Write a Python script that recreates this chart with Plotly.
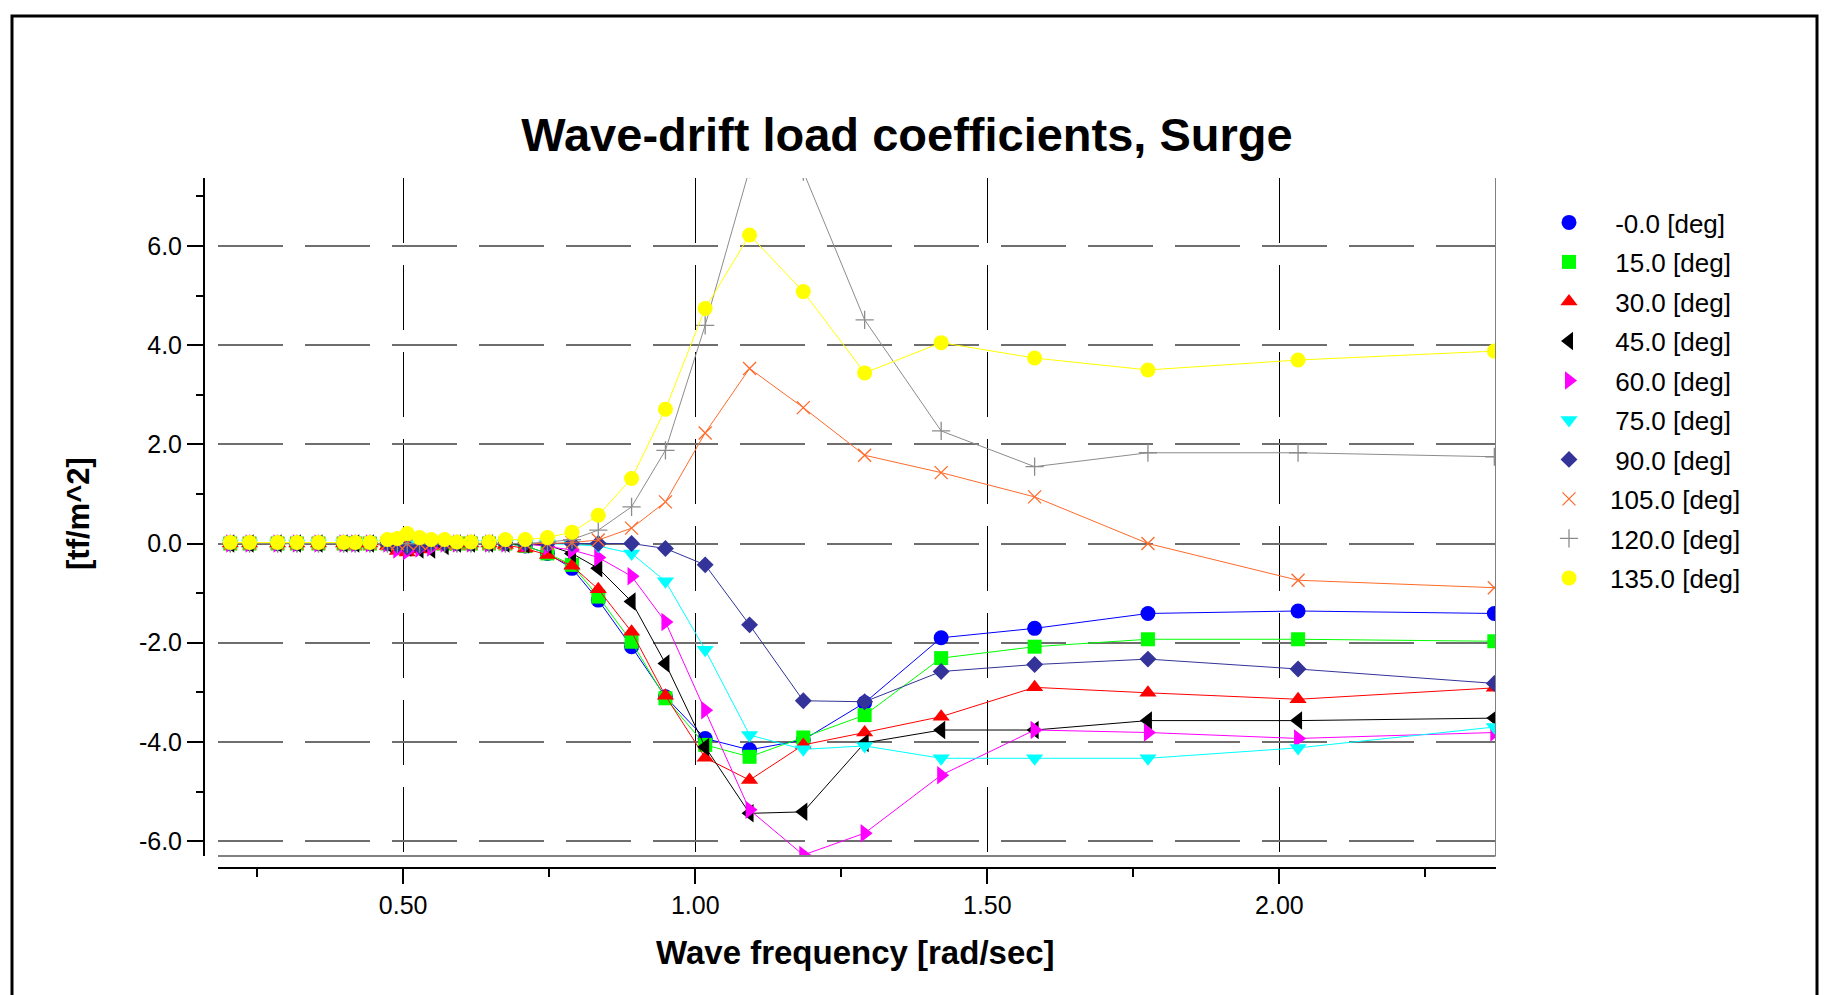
import plotly.graph_objects as go

W, H = 1828, 995
FONT = "Liberation Sans, Arial, sans-serif"


def fx(px):
    return px / W


def fy(py):
    return 1 - py / H


# ---------------- data ----------------
freq = [0.204, 0.237, 0.285, 0.318, 0.355, 0.398, 0.418, 0.443, 0.473, 0.490,
        0.507, 0.528, 0.548, 0.571, 0.592, 0.616, 0.647, 0.675, 0.709, 0.747,
        0.789, 0.834, 0.891, 0.949, 1.017, 1.093, 1.185, 1.290, 1.421, 1.581,
        1.775, 2.032, 2.368]

deg_000 = [0, 0, 0, 0, 0, 0, 0, 0, 0, 0, 0, 0, 0, 0, 0, 0, 0, 0, -0.05, -0.20,
           -0.50, -1.14, -2.08, -3.09, -3.93, -4.16, -3.96, -3.21, -1.90, -1.71,
           -1.41, -1.36, -1.41]
deg_015 = [0, 0, 0, 0, 0, 0, 0, 0, 0, 0, 0, 0, 0, 0, 0, 0, 0, 0, -0.05, -0.20,
           -0.43, -1.07, -1.98, -3.12, -4.06, -4.30, -3.91, -3.46, -2.31, -2.08,
           -1.93, -1.93, -1.97]
deg_030 = [0, 0, 0, 0, 0, 0, 0, 0, -0.05, -0.15, -0.18, -0.12, -0.05, 0, 0, 0, 0,
           -0.03, -0.10, -0.23, -0.45, -0.92, -1.78, -3.07, -4.32, -4.77, -4.06,
           -3.81, -3.49, -2.90, -3.01, -3.14, -2.91]
deg_045 = [0, 0, 0, 0, 0, 0, 0, 0, 0, 0, -0.08, -0.12, -0.12, -0.05, 0, 0, 0, 0,
           -0.02, -0.03, -0.20, -0.50, -1.17, -2.42, -4.10, -5.44, -5.41, -4.02,
           -3.76, -3.76, -3.57, -3.57, -3.52]
deg_060 = [0, 0, 0, 0, 0, 0, 0, 0, 0, -0.12, -0.15, -0.10, -0.08, 0, 0, 0, 0, 0,
           0, -0.06, -0.13, -0.28, -0.66, -1.58, -3.36, -5.37, -6.28, -5.84,
           -4.67, -3.76, -3.81, -3.93, -3.81]
deg_075 = [0, 0, 0, 0, 0, 0, 0, 0, 0, 0, 0, 0, 0, 0, 0, 0, 0, 0, 0, 0, -0.02,
           -0.05, -0.20, -0.76, -2.14, -3.86, -4.15, -4.08, -4.33, -4.33, -4.33,
           -4.12, -3.70]
deg_090 = [0, 0, 0, 0, 0, 0, 0, 0, 0, -0.03, -0.07, -0.05, 0, 0, 0, 0, 0, 0, 0,
           0, 0, 0, 0, -0.10, -0.43, -1.64, -3.17, -3.19, -2.58, -2.44, -2.33,
           -2.53, -2.82]
deg_105 = [0, 0, 0, 0, 0, 0, 0, 0, 0, 0, 0, 0, 0, 0, 0, 0, 0, 0, 0, 0, 0.02,
           0.07, 0.31, 0.84, 2.23, 3.53, 2.74, 1.78, 1.43, 0.94, 0.00, -0.74,
           -0.89]
deg_120 = [0, 0, 0, 0, 0, 0, 0, 0, 0, 0, 0, 0, 0, 0, 0, 0, 0, 0, 0, 0.03, 0.08,
           0.27, 0.74, 1.88, 4.40, 7.55, 7.50, 4.51, 2.27, 1.55, 1.83, 1.83, 1.75]
deg_135 = [0.02, 0.02, 0.02, 0.02, 0.02, 0.02, 0.02, 0.02, 0.08, 0.10, 0.20,
           0.12, 0.08, 0.08, 0.03, 0.03, 0.03, 0.08, 0.08, 0.12, 0.23, 0.57,
           1.31, 2.71, 4.74, 6.22, 5.08, 3.44, 4.05, 3.74, 3.50, 3.70, 3.88]

series_names = ["-0.0 [deg]", "15.0 [deg]", "30.0 [deg]", "45.0 [deg]",
                "60.0 [deg]", "75.0 [deg]", "90.0 [deg]", "105.0 [deg]",
                "120.0 [deg]", "135.0 [deg]"]
series_values = [deg_000, deg_015, deg_030, deg_045, deg_060, deg_075,
                 deg_090, deg_105, deg_120, deg_135]

x_ticks = [0.5, 1.0, 1.5, 2.0]
x_tick_labels = ["0.50", "1.00", "1.50", "2.00"]
y_ticks = [-6.0, -4.0, -2.0, 0.0, 2.0, 4.0, 6.0]
y_tick_labels = ["-6.0", "-4.0", "-2.0", "0.0", "2.0", "4.0", "6.0"]

# ---------------- styles ----------------
colors = ["#0000FF", "#00FF00", "#FF0000", "#000000", "#FF00FF", "#00FFFF",
          "#333399", "#FF6A2A", "#8C8C8C", "#FFFF00"]
symbols = ["circle", "square", "triangle-up", "triangle-left", "triangle-right",
           "triangle-down", "diamond", "x-thin", "cross-thin", "circle"]
sizes = [15, 14, 15, 16, 16, 15, 13, 13, 13, 15]

fig = go.Figure()
for i, (name, vals) in enumerate(zip(series_names, series_values)):
    col = colors[i]
    sym = symbols[i]
    marker = dict(symbol=sym, size=sizes[i], color=col)
    if sym in ("x-thin", "cross-thin"):
        marker["line"] = dict(color=col, width=1.3)
    else:
        marker["line"] = dict(width=0)
    label = name if len(name) > 10 else "\u2009" + name
    # connecting line (not in legend)
    fig.add_trace(go.Scatter(
        x=freq, y=vals, mode="lines", name=label, legendgroup=f"g{i}",
        showlegend=False, hoverinfo="skip",
        line=dict(color=col, width=1),
    ))
    # symbols (legend shows the symbol only)
    fig.add_trace(go.Scatter(
        x=freq, y=vals, mode="markers", name=label, legendgroup=f"g{i}",
        marker=marker,
    ))

# plot area geometry (pixels in the 1828x995 page)
PX0, PX1 = 218, 1495.5
PY0, PY1 = 178, 856

fig.update_layout(
    width=W, height=H,
    margin=dict(l=0, r=0, t=0, b=0),
    paper_bgcolor="white", plot_bgcolor="white",
    font=dict(family=FONT, color="black"),
    showlegend=True,
    legend=dict(
        x=fx(1528), y=fy(199), xanchor="left", yanchor="top",
        font=dict(family=FONT, size=26, color="black"),
        itemwidth=72, tracegroupgap=2.7, borderwidth=0,
        bgcolor="rgba(0,0,0,0)",
    ),
    title=dict(
        text="Wave-drift load coefficients, Surge",
        font=dict(family=FONT, size=47, color="black", weight="bold"),
        x=fx(907), y=fy(135), xref="paper", yref="paper",
        xanchor="center", yanchor="middle",
    ),
    xaxis=dict(
        domain=[fx(PX0), fx(PX1)],
        range=[0.183, 2.370],
        anchor="free", position=fy(868),
        tickmode="array", tickvals=x_ticks, ticktext=x_tick_labels,
        ticks="outside", ticklen=15, tickwidth=2, tickcolor="black",
        tickfont=dict(family=FONT, size=25, color="black"),
        showline=True, linecolor="black", linewidth=2,
        showgrid=True, gridcolor="black", gridwidth=1, griddash="65px,22px",
        zeroline=False, automargin=False,
        minor=dict(tickmode="linear", tick0=0.25, dtick=0.25, ticks="outside",
                   ticklen=8, tickwidth=2, tickcolor="black", showgrid=False),
    ),
    yaxis=dict(
        domain=[fy(PY1), fy(PY0)],
        range=[-6.30, 7.37],
        anchor="free", position=fx(204),
        tickmode="array", tickvals=y_ticks, ticktext=y_tick_labels,
        ticks="outside", ticklen=16, tickwidth=2, tickcolor="black",
        tickfont=dict(family=FONT, size=25, color="black"),
        showline=True, linecolor="black", linewidth=2,
        showgrid=True, gridcolor="#6E6E6E", gridwidth=2, griddash="65px,22px",
        zeroline=False, automargin=False,
        minor=dict(tickmode="linear", tick0=1, dtick=1, ticks="outside",
                   ticklen=7, tickwidth=2, tickcolor="black", showgrid=False),
    ),
    annotations=[
        dict(text="<b>Wave frequency [rad/sec]</b>", x=fx(855), y=fy(952),
             xref="paper", yref="paper", showarrow=False,
             xanchor="center", yanchor="middle",
             font=dict(family=FONT, size=33, color="black")),
        dict(text="<b>[tf/m^2]</b>", x=fx(78), y=fy(514),
             xref="paper", yref="paper", showarrow=False, textangle=-90,
             xanchor="center", yanchor="middle",
             font=dict(family=FONT, size=31, color="black")),
    ],
    shapes=[
        # outer frame (bottom edge is outside the page)
        dict(type="rect", xref="paper", yref="paper",
             x0=fx(12), x1=fx(1817), y0=-0.2, y1=fy(16),
             line=dict(color="black", width=3), fillcolor="rgba(0,0,0,0)"),
        # plot-area bottom and right edges
        dict(type="line", xref="x domain", yref="y domain",
             x0=0, x1=1, y0=0, y1=0, line=dict(color="#808080", width=2)),
        dict(type="line", xref="x domain", yref="y domain",
             x0=1, x1=1, y0=0, y1=1, line=dict(color="#808080", width=1)),
    ],
)

fig.write_html("out.html")
